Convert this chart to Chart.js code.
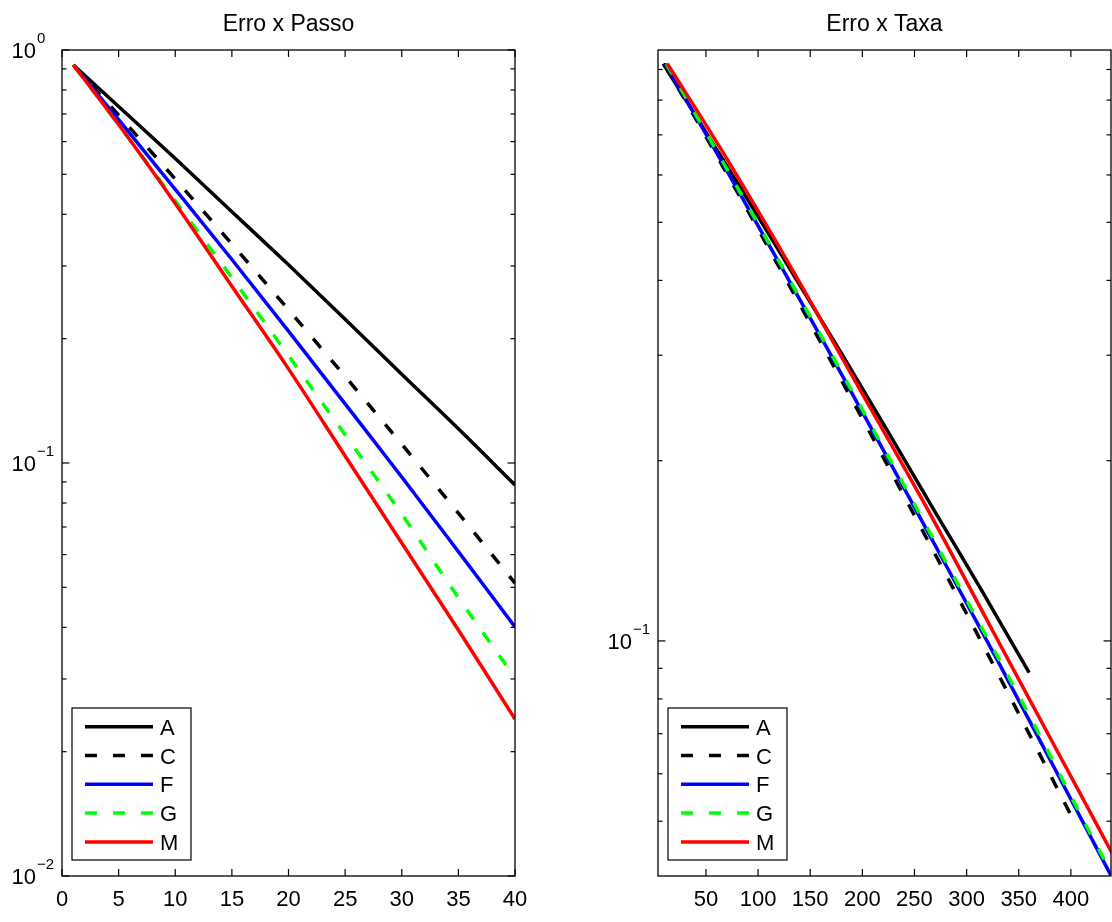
<!DOCTYPE html>
<html>
<head>
<meta charset="utf-8">
<script src="https://cdn.jsdelivr.net/npm/chart.js@4.4.0/dist/chart.umd.min.js"></script>
<style>
  body { margin: 0; background: #fff; }
  #wrap { position: relative; width: 1112px; height: 922px; }
  canvas { position: absolute; top: 0; }
</style>
</head>
<body>
<div id="wrap">
  <canvas id="chartPasso" width="556" height="922" style="left:0"></canvas>
  <canvas id="chartTaxa" width="556" height="922" style="left:556px"></canvas>
</div>
<script>
// error per step
const steps = [1, 5, 10, 15, 20, 25, 30, 35, 40];
const errA = [0.92, 0.730, 0.546, 0.406, 0.302, 0.223, 0.164, 0.121, 0.0885];
const errC = [0.92, 0.695, 0.487, 0.339, 0.235, 0.162, 0.111, 0.0756, 0.0512];
const errF = [0.92, 0.678, 0.460, 0.311, 0.2085, 0.139, 0.0925, 0.061, 0.0401];
const errG = [0.92, 0.659, 0.431, 0.281, 0.182, 0.117, 0.0752, 0.0472, 0.0302];
const errM = [0.92, 0.660, 0.425, 0.268, 0.169, 0.104, 0.064, 0.0394, 0.024];

// x of the right panel (taxa) for the same points
const taxaA = [9, 45, 90, 135, 180, 225, 270, 315, 360];
const taxaC = [10, 50, 100, 150, 200, 250, 300, 350, 400];
const taxaF = [11, 55, 110, 165, 220, 275, 330, 385, 440];
const taxaG = [12, 60, 120, 180, 240, 300, 360, 420, 480];
const taxaM = [13, 65, 130, 195, 260, 325, 390, 455, 520];

const labels = ["A", "C", "F", "G", "M"];
const xTicksPasso = [0, 5, 10, 15, 20, 25, 30, 35, 40];
const xTicksTaxa = [50, 100, 150, 200, 250, 300, 350, 400];
const yMajor = [1, 0.1, 0.01];
const yExp = ["0", "\u22121", "\u22122"];
const yMinor = [0.02, 0.03, 0.04, 0.05, 0.06, 0.07, 0.08, 0.09,
                0.2, 0.3, 0.4, 0.5, 0.6, 0.7, 0.8, 0.9];

const FONT = '"Liberation Sans", Arial, Helvetica, sans-serif';
const colors = ["#000000", "#000000", "#0000ff", "#00ff00", "#ff0000"];
const dashes = [[], [12, 16], [], [12, 16], []];

function pts(xs, ys) {
  return xs.map((x, i) => ({ x: x, y: ys[i] }));
}

function makeDatasets(xsList) {
  const ys = [errA, errC, errF, errG, errM];
  return labels.map((lab, i) => ({
    label: lab,
    data: pts(xsList[i], ys[i]),
    borderColor: colors[i],
    borderDash: dashes[i],
    borderWidth: 3.5,
    borderCapStyle: "butt",
    pointRadius: 0,
    cubicInterpolationMode: "monotone",
    clip: 0,
    order: 4 - i,
  }));
}

// matlab-like box, inward ticks, 10^n labels, legend
const matlabAxes = {
  id: "matlabAxes",
  afterDraw(chart, args, o) {
    const ctx = chart.ctx;
    const a = chart.chartArea;
    const xs = chart.scales.x, ys = chart.scales.y;
    const seg = (x1, y1, x2, y2) => {
      ctx.beginPath(); ctx.moveTo(x1, y1); ctx.lineTo(x2, y2); ctx.stroke();
    };
    ctx.save();
    ctx.strokeStyle = "#000";
    ctx.fillStyle = "#000";
    ctx.lineWidth = 1.2;
    ctx.textBaseline = "alphabetic";

    ctx.font = "22px " + FONT;
    ctx.textAlign = "center";
    o.xTicks.forEach(v => {
      const px = xs.getPixelForValue(v);
      seg(px, a.bottom, px, a.bottom - 7);
      seg(px, a.top, px, a.top + 7);
      ctx.fillText(String(v), px, a.bottom + 30);
    });

    yMinor.forEach(v => {
      if (v < ys.min || v > ys.max) return;
      const py = ys.getPixelForValue(v);
      seg(a.left, py, a.left + 4.5, py);
      seg(a.right, py, a.right - 4.5, py);
    });

    yMajor.forEach((v, i) => {
      if (v < ys.min * 0.999 || v > ys.max * 1.001) return;
      const py = ys.getPixelForValue(v);
      seg(a.left, py, a.left + 7.5, py);
      seg(a.right, py, a.right - 7.5, py);
      ctx.font = "22px " + FONT;
      ctx.textAlign = "right";
      ctx.fillText("10", a.left - 26, py + 8);
      ctx.font = "15px " + FONT;
      ctx.textAlign = "left";
      ctx.fillText(yExp[i], a.left - 25, py - 7);
    });

    ctx.lineWidth = 1.3;
    ctx.strokeRect(a.left, a.top, a.right - a.left, a.bottom - a.top);

    ctx.font = "23px " + FONT;
    ctx.textAlign = "center";
    ctx.fillText(o.title, (a.left + a.right) / 2, 31);

    // legend
    const lx = a.left + 10, ly = a.bottom - 168, lw = 119, lh = 152;
    ctx.fillStyle = "#fff";
    ctx.fillRect(lx, ly, lw, lh);
    ctx.strokeStyle = "#000";
    ctx.lineWidth = 1.2;
    ctx.strokeRect(lx, ly, lw, lh);
    chart.data.datasets.forEach((ds, i) => {
      const ry = ly + 18.7 + i * 28.8;
      ctx.strokeStyle = ds.borderColor;
      ctx.lineWidth = ds.borderWidth;
      ctx.setLineDash(ds.borderDash);
      seg(lx + 13, ry, lx + 81, ry);
      ctx.setLineDash([]);
      ctx.fillStyle = "#000";
      ctx.font = "22px " + FONT;
      ctx.textAlign = "left";
      ctx.fillText(ds.label, lx + 88, ry + 8);
    });
    ctx.restore();
  },
};

function buildChart(id, datasets, xmin, xmax, ymin, ymax, padding, pluginOpts) {
  const ctx = document.getElementById(id).getContext("2d");
  const existing = Chart.getChart(id);
  if (existing) existing.destroy();
  return new Chart(ctx, {
    type: "line",
    data: { datasets: datasets },
    options: {
      responsive: false,
      maintainAspectRatio: false,
      animation: false,
      layout: { padding: padding },
      scales: {
        x: { type: "linear", min: xmin, max: xmax, display: false },
        y: { type: "logarithmic", min: ymin, max: ymax, display: false },
      },
      plugins: {
        legend: { display: false },
        tooltip: { enabled: false },
        matlabAxes: pluginOpts,
      },
    },
    plugins: [matlabAxes],
  });
}

const stepList = [steps, steps, steps, steps, steps];
buildChart("chartPasso", makeDatasets(stepList), 0, 40, 0.01, 1,
  { left: 62, right: 41, top: 50, bottom: 46 },
  { title: "Erro x Passo", xTicks: xTicksPasso });

buildChart("chartTaxa", makeDatasets([taxaA, taxaC, taxaF, taxaG, taxaM]), 4, 438.5, 0.0405, 0.97,
  { left: 102, right: 1, top: 50, bottom: 46 },
  { title: "Erro x Taxa", xTicks: xTicksTaxa });
</script>
</body>
</html>
